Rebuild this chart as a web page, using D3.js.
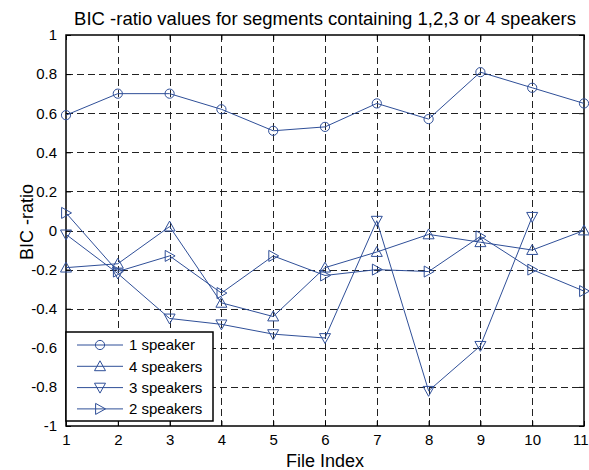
<!DOCTYPE html>
<html>
<head>
<meta charset="utf-8">
<script src="https://cdn.jsdelivr.net/npm/d3@7"></script>
<style>
  body { margin: 0; background: #fff; }
  svg { display: block; font-family: 'Liberation Sans', Arial, sans-serif; }
</style>
</head>
<body>
<div id="chart-area"></div>
<script>
// values
let fileIndex = [1, 2, 3, 4, 5, 6, 7, 8, 9, 10, 11];
let speaker1 = [0.59, 0.70, 0.70, 0.62, 0.51, 0.53, 0.65, 0.57, 0.81, 0.73, 0.65];
let speaker4 = [-0.19, -0.17, 0.02, -0.37, -0.44, -0.19, -0.11, -0.02, -0.06, -0.10, 0.0];
let speaker3 = [-0.02, -0.22, -0.45, -0.48, -0.53, -0.55, 0.05, -0.82, -0.59, 0.07, null];
let speaker2 = [0.09, -0.21, -0.13, -0.32, -0.13, -0.23, -0.20, -0.21, -0.03, -0.20, -0.31];
let seriesNames = ['1 speaker', '4 speakers', '3 speakers', '2 speakers'];
let yTicks = [-1, -0.8, -0.6, -0.4, -0.2, 0, 0.2, 0.4, 0.6, 0.8, 1];

let width = 589;
let height = 470;
let padding = { left: 66, top: 35, right: 5, bottom: 44 };
let lineColor = '#2f4f98';

let series = [
  { name: seriesNames[0], values: speaker1, marker: 'circle' },
  { name: seriesNames[1], values: speaker4, marker: 'up' },
  { name: seriesNames[2], values: speaker3, marker: 'down' },
  { name: seriesNames[3], values: speaker2, marker: 'right' },
];

let chart = d3
  .select('#chart-area')
  .append('svg')
  .attr('width', width)
  .attr('height', height);

let x = d3.scaleLinear().domain([1, 11]).range([padding.left, width - padding.right]);
let y = d3.scaleLinear().domain([-1, 1]).range([height - padding.bottom, padding.top]);

//grid
let grid = chart.append('g').attr('stroke', '#222').attr('stroke-dasharray', '7,4').attr('stroke-width', 1);
grid
  .selectAll('line.gx')
  .data(fileIndex.slice(1, -1))
  .enter()
  .append('line')
  .attr('x1', (d) => Math.round(x(d)) + 0.5)
  .attr('x2', (d) => Math.round(x(d)) + 0.5)
  .attr('y1', y(1))
  .attr('y2', y(-1));
grid
  .selectAll('line.gy')
  .data(yTicks.slice(1, -1))
  .enter()
  .append('line')
  .attr('y1', (d) => Math.round(y(d)) + 0.5)
  .attr('y2', (d) => Math.round(y(d)) + 0.5)
  .attr('x1', x(1))
  .attr('x2', x(11));

//axes (inner ticks like matlab), plain hyphen for negatives
let fmt = (d) => String(+d.toFixed(1));
let axisStyle = (g) => {
  g.select('.domain').remove();
  g.selectAll('text').attr('font-size', 15).attr('fill', '#000');
  g.selectAll('line').attr('stroke', '#000');
};
let xAxisG = chart
  .append('g')
  .attr('transform', `translate(0,${y(-1)})`)
  .call(d3.axisBottom(x).tickValues(fileIndex).tickFormat(d3.format('d')).tickSizeInner(-5).tickPadding(8))
  .call(axisStyle);
// last label would fall off the page, so pull it in
xAxisG
  .selectAll('.tick text')
  .filter((d) => d === 11)
  .attr('text-anchor', 'end')
  .attr('x', 4);
chart
  .append('g')
  .attr('transform', `translate(0,${y(1)})`)
  .call(d3.axisTop(x).tickValues(fileIndex).tickSizeInner(-5).tickFormat(''))
  .call(axisStyle);
chart
  .append('g')
  .attr('transform', `translate(${x(1)},0)`)
  .call(d3.axisLeft(y).tickValues(yTicks).tickFormat(fmt).tickSizeInner(-5).tickPadding(9))
  .call(axisStyle);
chart
  .append('g')
  .attr('transform', `translate(${x(11)},0)`)
  .call(d3.axisRight(y).tickValues(yTicks).tickSizeInner(-5).tickFormat(''))
  .call(axisStyle);

chart
  .append('rect')
  .attr('x', x(1))
  .attr('y', y(1))
  .attr('width', x(11) - x(1))
  .attr('height', y(-1) - y(1))
  .attr('fill', 'none')
  .attr('stroke', '#000')
  .attr('stroke-width', 1.5);

//markers
let triSize = 5.5;
let markerPath = (type) => {
  let s = triSize;
  if (type === 'up') return `M0,${-s}L${s},${s * 0.8}L${-s},${s * 0.8}Z`;
  if (type === 'down') return `M0,${s}L${s},${-s * 0.8}L${-s},${-s * 0.8}Z`;
  if (type === 'right') return `M${s},0L${-s * 0.8},${s}L${-s * 0.8},${-s}Z`;
  return null;
};
let drawMarker = (g, type) => {
  if (type === 'circle') {
    g.append('circle').attr('r', 4.6).attr('fill', 'none').attr('stroke', lineColor);
  } else {
    g.append('path').attr('d', markerPath(type)).attr('fill', 'none').attr('stroke', lineColor);
  }
};

let line = d3
  .line()
  .defined((d) => d[1] !== null)
  .x((d) => x(d[0]))
  .y((d) => y(d[1]));

let plot = chart.append('g');
series.forEach((s) => {
  let pts = fileIndex.map((f, i) => [f, s.values[i]]);
  plot
    .append('path')
    .attr('d', line(pts))
    .attr('fill', 'none')
    .attr('stroke', lineColor)
    .attr('stroke-width', 1);
  plot
    .selectAll(null)
    .data(pts.filter((d) => d[1] !== null))
    .enter()
    .append('g')
    .attr('transform', (d) => `translate(${x(d[0])},${y(d[1])})`)
    .each(function () {
      drawMarker(d3.select(this), s.marker);
    });
});

//legend
let legend = chart.append('g').attr('transform', `translate(${x(1)},${332})`);
legend
  .append('rect')
  .attr('width', 147)
  .attr('height', 89)
  .attr('fill', '#fff')
  .attr('stroke', '#000')
  .attr('stroke-width', 1.5);
series.forEach((s, i) => {
  let row = legend.append('g').attr('transform', `translate(0,${13 + i * 21.3})`);
  row.append('line').attr('x1', 11).attr('x2', 57).attr('stroke', lineColor);
  drawMarker(row.append('g').attr('transform', 'translate(34,0)'), s.marker);
  row
    .append('text')
    .attr('x', 63)
    .attr('dy', '0.36em')
    .attr('font-size', 15)
    .text(s.name);
});

//title and axis labels
chart
  .append('text')
  .attr('x', (x(1) + x(11)) / 2)
  .attr('y', 25)
  .attr('text-anchor', 'middle')
  .attr('font-size', 18.5)
  .text('BIC -ratio values for segments containing 1,2,3 or 4 speakers');
chart
  .append('text')
  .attr('x', (x(1) + x(11)) / 2)
  .attr('y', 467)
  .attr('text-anchor', 'middle')
  .attr('font-size', 18)
  .text('File Index');
chart
  .append('text')
  .attr('transform', `translate(33,222) rotate(-90)`)
  .attr('text-anchor', 'middle')
  .attr('font-size', 18)
  .text('BIC -ratio');
</script>
</body>
</html>
